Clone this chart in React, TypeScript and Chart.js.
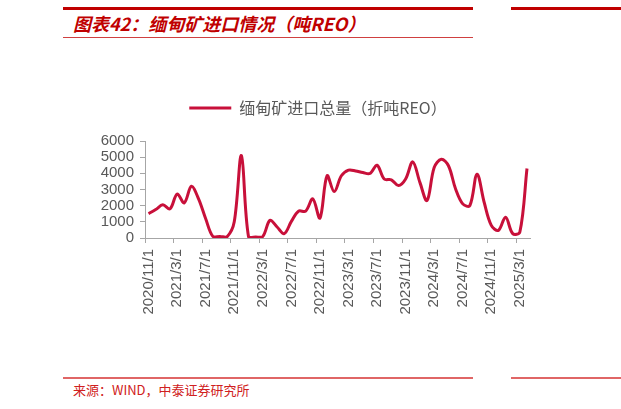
import { useEffect, useRef } from 'react';
import Chart from 'chart.js/auto';

const months = [
  '2020/11/1', '2020/12/1',
  '2021/1/1', '2021/2/1', '2021/3/1', '2021/4/1', '2021/5/1', '2021/6/1',
  '2021/7/1', '2021/8/1', '2021/9/1', '2021/10/1', '2021/11/1', '2021/12/1',
  '2022/1/1', '2022/2/1', '2022/3/1', '2022/4/1', '2022/5/1', '2022/6/1',
  '2022/7/1', '2022/8/1', '2022/9/1', '2022/10/1', '2022/11/1', '2022/12/1',
  '2023/1/1', '2023/2/1', '2023/3/1', '2023/4/1', '2023/5/1', '2023/6/1',
  '2023/7/1', '2023/8/1', '2023/9/1', '2023/10/1', '2023/11/1', '2023/12/1',
  '2024/1/1', '2024/2/1', '2024/3/1', '2024/4/1', '2024/5/1', '2024/6/1',
  '2024/7/1', '2024/8/1', '2024/9/1', '2024/10/1', '2024/11/1', '2024/12/1',
  '2025/1/1', '2025/2/1', '2025/3/1', '2025/4/1',
];

// 缅甸矿进口总量（折吨REO）
const myanmarImports = [
  1500, 1760,
  2050, 1800, 2720, 2170, 3200, 2420,
  1190, 100, 100, 80, 1000, 5100,
  80, 60, 100, 1090, 680, 270,
  1030, 1660, 1660, 2420, 1230, 3850,
  2870, 3850, 4200, 4150, 4050, 3990,
  4500, 3650, 3600, 3240, 3650, 4710,
  3440, 2320, 4360, 4870, 4470, 3030,
  2110, 2010, 3950, 2210, 780, 470,
  1290, 270, 370, 4300,
];

const seriesName = '缅甸矿进口总量（折吨REO）';
const labelEvery = 4;
const yMax = 6000;
const yStep = 1000;

const RED = '#c00000';
const LINE = '#c8103a';
const AXIS = '#a6a6a6';
const TEXT = '#595959';
const CJK = '"Noto Sans CJK SC", "Liberation Sans", sans-serif';
const LATIN = '"Liberation Sans", Arial, sans-serif';

// push the plot down a bit below the legend
const legendGap = {
  id: 'legendGap',
  beforeInit(chart: any) {
    const legend = chart.legend;
    if (!legend) return;
    const fit = legend.fit;
    legend.fit = function () {
      fit.call(this);
      this.height += 15;
    };
  },
};

const ImportChart = () => {
  const canvasRef = useRef<HTMLCanvasElement | null>(null);
  const chartRef = useRef<Chart | null>(null);

  useEffect(() => {
    if (!canvasRef.current) return;
    if (chartRef.current) chartRef.current.destroy();

    chartRef.current = new Chart(canvasRef.current, {
      type: 'line',
      data: {
        labels: months,
        datasets: [
          {
            label: seriesName,
            data: myanmarImports,
            borderColor: LINE,
            backgroundColor: LINE,
            borderWidth: 3,
            pointRadius: 0,
            tension: 0.35,
            fill: false,
          },
        ],
      },
      options: {
        animation: false,
        responsive: true,
        maintainAspectRatio: false,
        layout: { padding: { top: 10, right: 0, left: 22, bottom: 0 } },
        plugins: {
          legend: {
            position: 'top',
            labels: {
              usePointStyle: true,
              pointStyle: 'line',
              pointStyleWidth: 42,
              padding: 10,
              color: TEXT,
              font: { family: CJK, size: 16 },
            },
          },
          tooltip: { enabled: false },
        },
        scales: {
          x: {
            offset: true,
            border: { display: true, color: AXIS, width: 1 },
            grid: {
              offset: true,
              drawOnChartArea: false,
              drawTicks: true,
              tickLength: 5,
              color: (ctx: any) => (ctx.index % labelEvery === 0 ? AXIS : 'rgba(0,0,0,0)'),
            },
            ticks: {
              autoSkip: false,
              maxRotation: 90,
              minRotation: 90,
              padding: 6,
              color: TEXT,
              font: { family: LATIN, size: 15 },
              callback: (_v: any, i: number) => (i % labelEvery === 0 ? months[i] : ''),
            },
            afterFit: (scale: any) => {
              scale.height = 92;
            },
          },
          y: {
            min: 0,
            max: yMax,
            border: { display: true, color: AXIS, width: 1 },
            grid: { drawOnChartArea: false, drawTicks: true, tickLength: 5, color: AXIS },
            ticks: {
              stepSize: yStep,
              autoSkip: false,
              padding: 6,
              color: TEXT,
              font: { family: LATIN, size: 15 },
              callback: (v: any) => String(v),
            },
            afterFit: (scale: any) => {
              scale.width = 60;
            },
          },
        },
      },
      plugins: [legendGap],
    });

    return () => {
      if (chartRef.current) {
        chartRef.current.destroy();
        chartRef.current = null;
      }
    };
  }, []);

  return (
    <div style={{ position: 'absolute', left: 63, top: 80, width: 488, height: 250 }}>
      <canvas ref={canvasRef} />
    </div>
  );
};

const App = () => {
  return (
    <div
      style={{
        position: 'absolute',
        left: 0,
        top: 0,
        width: 621,
        height: 409,
        background: '#fff',
        overflow: 'hidden',
      }}
    >
      <div style={{ position: 'absolute', left: 63, top: 7, width: 410, height: 3, background: RED }} />
      <div style={{ position: 'absolute', left: 511, top: 7, width: 110, height: 3, background: RED }} />
      <div
        style={{
          position: 'absolute',
          left: 73,
          top: 10,
          fontFamily: CJK,
          fontSize: 18,
          fontWeight: 'bold',
          fontStyle: 'italic',
          color: RED,
          whiteSpace: 'nowrap',
          lineHeight: '26px',
        }}
      >
        图表42：缅甸矿进口情况（吨REO）
      </div>
      <div style={{ position: 'absolute', left: 63, top: 37, width: 410, height: 1, background: '#d04040' }} />
      <ImportChart />
      <div style={{ position: 'absolute', left: 63, top: 377, width: 410, height: 2, background: '#e06666' }} />
      <div style={{ position: 'absolute', left: 511, top: 377, width: 110, height: 2, background: '#e06666' }} />
      <div
        style={{
          position: 'absolute',
          left: 73,
          top: 381,
          fontFamily: CJK,
          fontSize: 13,
          color: '#d02020',
          whiteSpace: 'nowrap',
          lineHeight: '18px',
        }}
      >
        来源：WIND，中泰证券研究所
      </div>
    </div>
  );
};

export default App;
